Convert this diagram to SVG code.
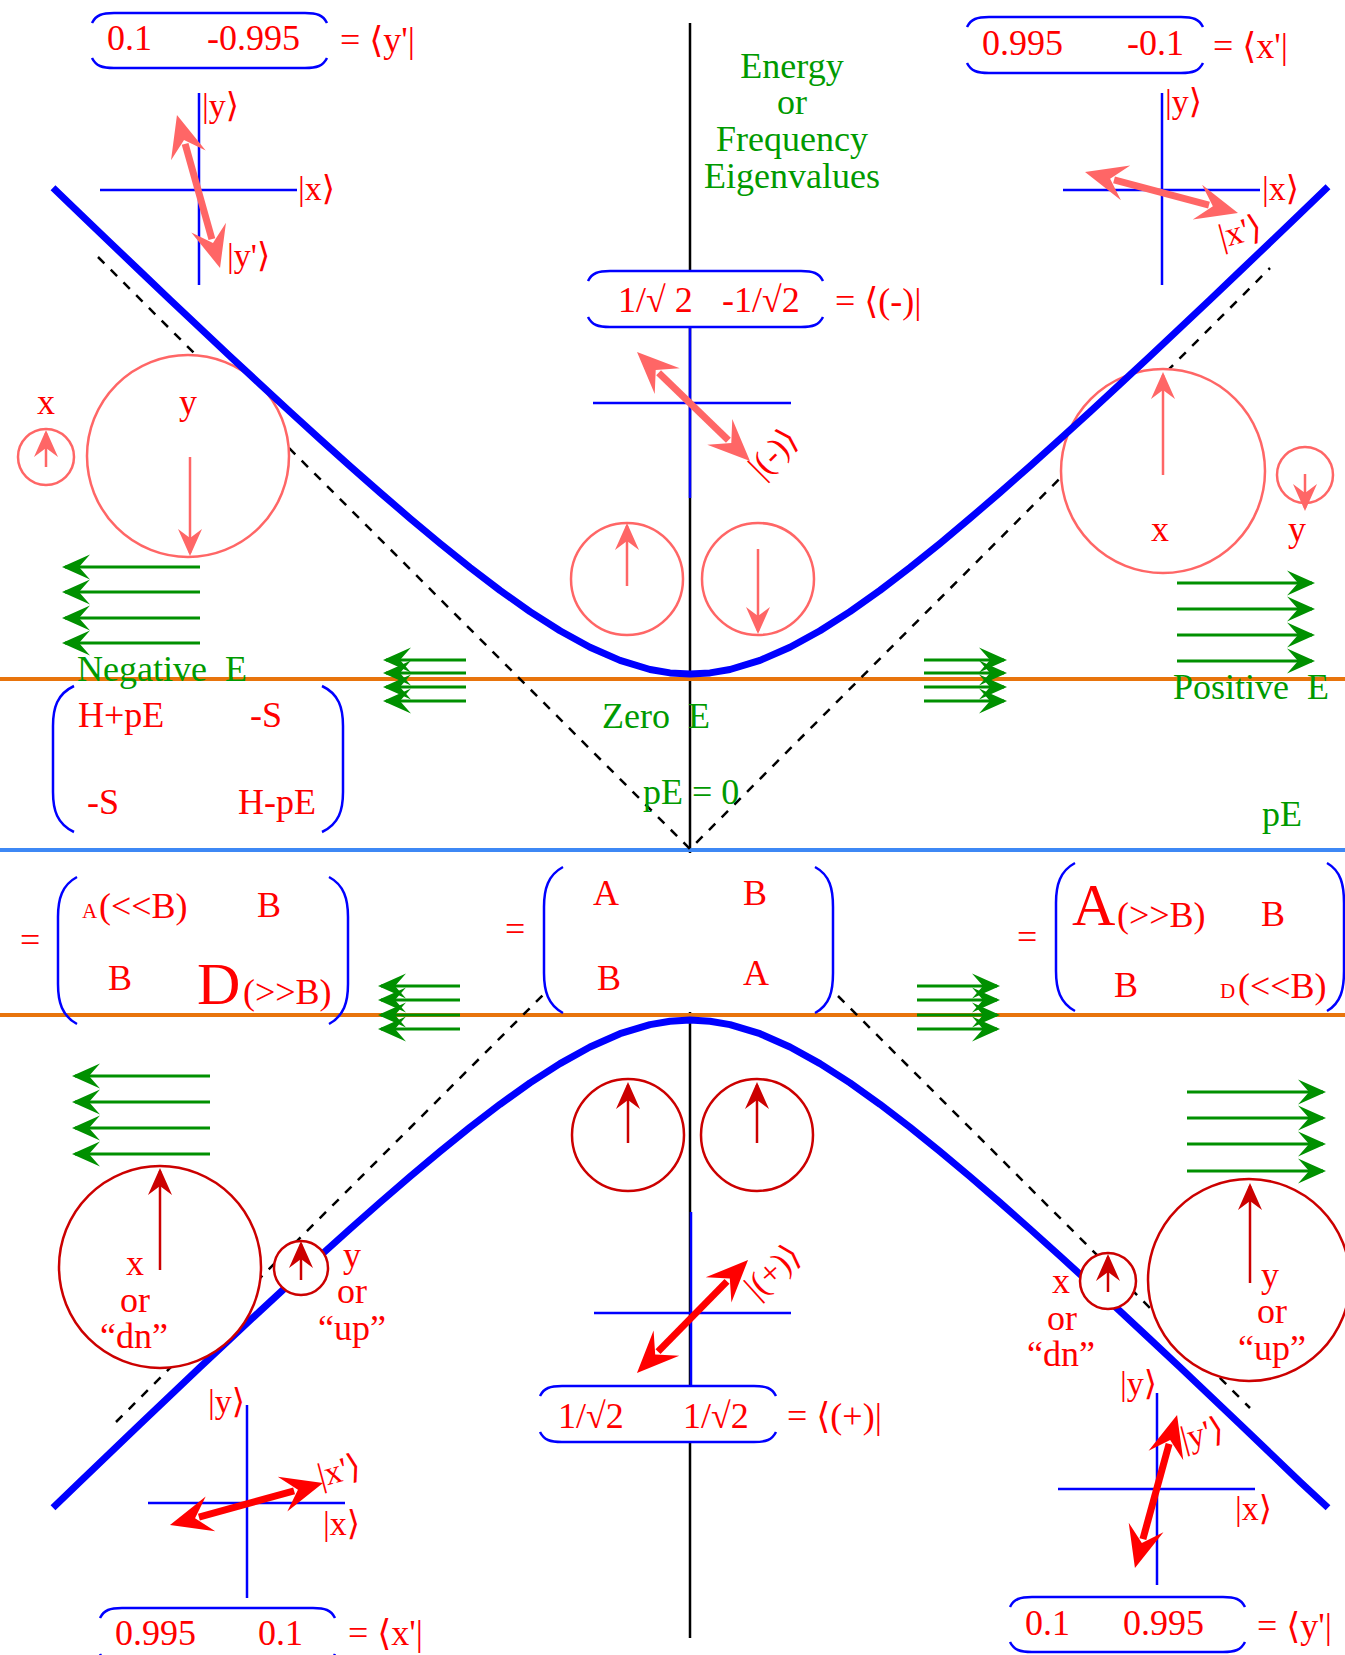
<svg xmlns="http://www.w3.org/2000/svg" width="1345" height="1655" viewBox="0 0 1345 1655">
<style>
text{font-family:'Liberation Serif','DejaVu Serif',serif;font-size:36px}
.r{fill:#ff0000}
.g{fill:#009a00}
.m{text-anchor:middle}
.sm{font-size:34px}
.pre{white-space:pre}
.ax{stroke:#0000ff;stroke-width:2.5;fill:none}
.br{stroke:#0000ff;stroke-width:2.5;fill:none}
.ga{stroke:#009000;stroke-width:3;marker-end:url(#mg)}
.cs{stroke:#ff6666;stroke-width:2.5;fill:#fff}
.cd{stroke:#cc0000;stroke-width:2.5;fill:#fff}
.as{stroke:#ff6666;stroke-width:2.5;marker-end:url(#ms)}
.ad{stroke:#cc0000;stroke-width:2.5;marker-end:url(#md)}
.dash{stroke:#000;stroke-width:2.5;stroke-dasharray:9 9;fill:none}
.curve{stroke:#0000ff;stroke-width:7;fill:none;stroke-linejoin:round}
.dbs{stroke:#ff6666;stroke-width:7;marker-start:url(#hs);marker-end:url(#hs)}
.dbr{stroke:#ff0000;stroke-width:7;marker-start:url(#hr);marker-end:url(#hr)}
</style>
<defs>
<marker id="mg" markerUnits="userSpaceOnUse" viewBox="-30 -14 36 28" markerWidth="36" markerHeight="28" refX="0" refY="0" orient="auto"><path d="M3,0 L-25,-12.5 L-14,0 L-25,12.5 Z" fill="#009000"/></marker>
<marker id="ms" markerUnits="userSpaceOnUse" viewBox="-30 -14 36 28" markerWidth="36" markerHeight="28" refX="0" refY="0" orient="auto"><path d="M3,0 L-24,-12 L-15,0 L-24,12 Z" fill="#ff6666"/></marker>
<marker id="md" markerUnits="userSpaceOnUse" viewBox="-30 -14 36 28" markerWidth="36" markerHeight="28" refX="0" refY="0" orient="auto"><path d="M3,0 L-24,-12 L-15,0 L-24,12 Z" fill="#cc0000"/></marker>
<marker id="hs" markerUnits="userSpaceOnUse" viewBox="-15 -20 50 40" markerWidth="50" markerHeight="40" refX="0" refY="0" orient="auto-start-reverse"><path d="M30,0 L-12,-18 L4,0 L-12,18 Z" fill="#ff6666"/></marker>
<marker id="hr" markerUnits="userSpaceOnUse" viewBox="-15 -20 50 40" markerWidth="50" markerHeight="40" refX="0" refY="0" orient="auto-start-reverse"><path d="M30,0 L-12,-18 L4,0 L-12,18 Z" fill="#ff0000"/></marker>
</defs>
<rect x="0" y="0" width="1345" height="1655" fill="#fff"/>

<g id="connectors">
<line x1="690" y1="23" x2="690" y2="1638" stroke="#000" stroke-width="2.5"/>
<rect x="588" y="271" width="235" height="56" fill="#fff"/>
<rect x="544" y="853" width="289" height="159" fill="#fff"/>
<line x1="0" y1="679" x2="1345" y2="679" stroke="#e8740c" stroke-width="4"/>
<line x1="0" y1="1015" x2="1345" y2="1015" stroke="#e8740c" stroke-width="4"/>
<line x1="0" y1="850" x2="1345" y2="850" stroke="#3d88f5" stroke-width="4"/>
<path class="dash" d="M98,257 L690,849 L1270,268"/>
<path class="dash" d="M116,1422 L543,995"/>
<path class="dash" d="M838,996 L1250,1408"/>
</g>

<g id="top-circles">
<circle class="cs" cx="46" cy="457" r="28"/>
<line class="as" x1="46" y1="467" x2="46" y2="433"/>
<circle class="cs" cx="188" cy="456" r="101"/>
<line class="as" x1="190" y1="457" x2="190" y2="553"/>
<circle class="cs" cx="627" cy="579" r="56"/>
<line class="as" x1="627" y1="586" x2="627" y2="526"/>
<circle class="cs" cx="758" cy="579" r="56"/>
<line class="as" x1="758" y1="549" x2="758" y2="631"/>
<circle class="cs" cx="1163" cy="471" r="102"/>
<line class="as" x1="1163" y1="475" x2="1163" y2="375"/>
<circle class="cs" cx="1305" cy="475" r="28"/>
<line class="as" x1="1305" y1="474" x2="1305" y2="508"/>
</g>

<g id="curves">
<path class="curve" d="M53,187.7 L80,213.7 L110,242.5 L140,271.1 L170,299.7 L200,328 L230,356.2 L260,384.1 L290,411.8 L320,439.1 L350,466.1 L380,492.5 L410,518.3 L440,543.4 L470,567.5 L500,590.4 L530,611.6 L560,630.8 L590,647.3 L620,660.4 L650,669.5 L670,672.9 L690,674 L710,672.9 L730,669.5 L760,660.4 L790,647.3 L820,630.8 L850,611.6 L880,590.4 L910,567.5 L940,543.4 L970,518.3 L1000,492.5 L1030,466.1 L1060,439.1 L1090,411.8 L1120,384.1 L1150,356.2 L1180,328 L1210,299.7 L1240,271.1 L1270,242.5 L1300,213.7 L1328,186.7"/>
<path class="curve" d="M53,1507.8 L80,1481.8 L110,1453 L140,1424.3 L170,1395.7 L200,1367.3 L230,1339.1 L260,1311.1 L290,1283.4 L320,1256 L350,1229 L380,1202.5 L410,1176.6 L440,1151.5 L470,1127.3 L500,1104.3 L530,1082.9 L560,1063.6 L590,1047 L620,1033.7 L650,1024.6 L670,1021.2 L690,1020 L710,1021.2 L730,1024.6 L760,1033.7 L790,1047 L820,1063.6 L850,1082.9 L880,1104.3 L910,1127.3 L940,1151.5 L970,1176.6 L1000,1202.5 L1030,1229 L1060,1256 L1090,1283.4 L1120,1311.1 L1150,1339.1 L1180,1367.3 L1210,1395.7 L1240,1424.3 L1270,1453 L1300,1481.8 L1328,1507.8"/>
</g>

<g id="bottom-circles">
<circle class="cd" cx="160" cy="1267" r="101"/>
<line class="ad" x1="160" y1="1270" x2="160" y2="1171"/>
<circle class="cd" cx="301" cy="1268" r="27"/>
<line class="ad" x1="301" y1="1280" x2="301" y2="1244"/>
<circle class="cd" cx="628" cy="1135" r="56"/>
<line class="ad" x1="628" y1="1143" x2="628" y2="1085"/>
<circle class="cd" cx="757" cy="1135" r="56"/>
<line class="ad" x1="757" y1="1143" x2="757" y2="1085"/>
<circle class="cd" cx="1108" cy="1281" r="28"/>
<line class="ad" x1="1108" y1="1292" x2="1108" y2="1257"/>
<circle class="cd" cx="1249" cy="1280" r="101"/>
<line class="ad" x1="1250" y1="1283" x2="1250" y2="1186"/>
</g>

<g id="green-arrows">
<line class="ga" x1="200" y1="567" x2="65" y2="567"/>
<line class="ga" x1="200" y1="592" x2="65" y2="592"/>
<line class="ga" x1="200" y1="618" x2="65" y2="618"/>
<line class="ga" x1="200" y1="643" x2="65" y2="643"/>
<line class="ga" x1="466" y1="660" x2="386" y2="660"/>
<line class="ga" x1="466" y1="673" x2="386" y2="673"/>
<line class="ga" x1="466" y1="687" x2="386" y2="687"/>
<line class="ga" x1="466" y1="701" x2="386" y2="701"/>
<line class="ga" x1="924" y1="660" x2="1004" y2="660"/>
<line class="ga" x1="924" y1="673" x2="1004" y2="673"/>
<line class="ga" x1="924" y1="687" x2="1004" y2="687"/>
<line class="ga" x1="924" y1="701" x2="1004" y2="701"/>
<line class="ga" x1="1177" y1="583" x2="1312" y2="583"/>
<line class="ga" x1="1177" y1="609" x2="1312" y2="609"/>
<line class="ga" x1="1177" y1="635" x2="1312" y2="635"/>
<line class="ga" x1="1177" y1="661" x2="1312" y2="661"/>
<line class="ga" x1="210" y1="1076" x2="75" y2="1076"/>
<line class="ga" x1="210" y1="1102" x2="75" y2="1102"/>
<line class="ga" x1="210" y1="1128" x2="75" y2="1128"/>
<line class="ga" x1="210" y1="1154" x2="75" y2="1154"/>
<line class="ga" x1="460" y1="986" x2="381" y2="986"/>
<line class="ga" x1="460" y1="1000" x2="381" y2="1000"/>
<line class="ga" x1="460" y1="1015" x2="381" y2="1015"/>
<line class="ga" x1="460" y1="1029" x2="381" y2="1029"/>
<line class="ga" x1="917" y1="986" x2="997" y2="986"/>
<line class="ga" x1="917" y1="1000" x2="997" y2="1000"/>
<line class="ga" x1="917" y1="1015" x2="997" y2="1015"/>
<line class="ga" x1="917" y1="1029" x2="997" y2="1029"/>
<line class="ga" x1="1187" y1="1092" x2="1323" y2="1092"/>
<line class="ga" x1="1187" y1="1118" x2="1323" y2="1118"/>
<line class="ga" x1="1187" y1="1144" x2="1323" y2="1144"/>
<line class="ga" x1="1187" y1="1171" x2="1323" y2="1171"/>
</g>

<g id="axes-tl">
<line class="ax" x1="199" y1="93" x2="199" y2="285"/>
<line class="ax" x1="100" y1="190" x2="297" y2="190"/>
<line class="dbs" x1="185.1" y1="143.9" x2="211.9" y2="239.1"/>
<text class="r sm" x="202" y="117">|y⟩</text>
<text class="r sm" x="298" y="200">|x⟩</text>
<text class="r sm" x="227" y="267">|y'⟩</text>
</g>
<g id="bra-tl">
<path class="br" d="M92,23 C96,15 102,13 114,13 L305,13 C317,13 323,15 327,23"/>
<path class="br" d="M92,58 C96,66 102,68 114,68 L305,68 C317,68 323,66 327,58"/>
<text class="r" x="107" y="50">0.1</text>
<text class="r" x="207" y="50">-0.995</text>
<text class="r" x="340" y="52">= ⟨y'|</text>
</g>

<g id="axes-tr">
<line class="ax" x1="1162" y1="93" x2="1162" y2="285"/>
<line class="ax" x1="1063" y1="190" x2="1260" y2="190"/>
<line class="dbs" x1="1114" y1="179.8" x2="1209" y2="205.2"/>
<text class="r sm" x="1165" y="113">|y⟩</text>
<text class="r sm" x="1262" y="200">|x⟩</text>
<text class="r sm" transform="translate(1222,248) rotate(-15)">|x'⟩</text>
</g>
<g id="bra-tr">
<path class="br" d="M967,27 C971,19 977,17 989,17 L1181,17 C1193,17 1199,19 1203,27"/>
<path class="br" d="M967,63 C971,71 977,73 989,73 L1181,73 C1193,73 1199,71 1203,63"/>
<text class="r" x="982" y="55">0.995</text>
<text class="r" x="1127" y="55">-0.1</text>
<text class="r" x="1213" y="58">= ⟨x'|</text>
</g>

<g id="title">
<text class="g m"><tspan x="792" y="78">Energy</tspan><tspan x="792" y="114">or</tspan><tspan x="792" y="151">Frequency</tspan><tspan x="792" y="188">Eigenvalues</tspan></text>
</g>

<g id="bra-tc">
<path class="br" d="M588,281 C592,273 598,271 610,271 L801,271 C813,271 819,273 823,281"/>
<path class="br" d="M588,317 C592,325 598,327 610,327 L801,327 C813,327 819,325 823,317"/>
<text class="r pre" x="618" y="312">1/√ 2</text>
<text class="r" x="722" y="312">-1/√2</text>
<text class="r" x="835" y="313">= ⟨(-)|</text>
</g>
<g id="axes-tc">
<line class="ax" x1="690" y1="327" x2="690" y2="498"/>
<line class="ax" x1="593" y1="403" x2="791" y2="403"/>
<line class="dbs" x1="658.6" y1="372.8" x2="728.4" y2="440.2"/>
<text class="r sm" transform="translate(762,480) rotate(-45)">|(-)⟩</text>
</g>

<g id="top-labels">
<text class="r m" x="46" y="414">x</text>
<text class="r m" x="188" y="414">y</text>
<text class="r m" x="1160" y="541">x</text>
<text class="r m" x="1297" y="541">y</text>
<text class="g pre" x="77" y="681">Negative  E</text>
<text class="g pre" x="602" y="728">Zero  E</text>
<text class="g pre" x="1173" y="699">Positive  E</text>
<text class="g" x="643" y="804">pE = 0</text>
<text class="g" x="1262" y="826">pE</text>
</g>

<g id="matrix-tl">
<path class="br" d="M74,686 C57,694 53,708 53,726 L53,792 C53,810 57,824 74,832"/>
<path class="br" d="M322,686 C339,694 343,708 343,726 L343,792 C343,810 339,824 322,832"/>
<text class="r" x="78" y="727">H+pE</text>
<text class="r" x="250" y="727">-S</text>
<text class="r" x="87" y="814">-S</text>
<text class="r" x="238" y="814">H-pE</text>
</g>

<g id="matrix-bl">
<text class="r" x="20" y="952">=</text>
<path class="br" d="M77,877 C62,885 58,899 58,917 L58,984 C58,1002 62,1016 77,1024"/>
<path class="br" d="M329,877 C344,885 348,899 348,917 L348,984 C348,1002 344,1016 329,1024"/>
<text class="r" x="82" y="918" style="font-size:21px">A</text>
<text class="r" x="99" y="918">(&lt;&lt;B)</text>
<text class="r" x="257" y="917">B</text>
<text class="r" x="108" y="990">B</text>
<text class="r" x="197" y="1004" style="font-size:60px">D</text>
<text class="r" x="243" y="1004">(&gt;&gt;B)</text>
</g>

<g id="matrix-bc">
<text class="r" x="505" y="941">=</text>
<path class="br" d="M563,867 C548,875 544,889 544,907 L544,973 C544,991 548,1005 563,1013"/>
<path class="br" d="M815,867 C830,875 833,889 833,907 L833,973 C833,991 830,1005 815,1013"/>
<text class="r" x="593" y="905">A</text>
<text class="r" x="743" y="905">B</text>
<text class="r" x="597" y="990">B</text>
<text class="r" x="743" y="985">A</text>
</g>

<g id="matrix-br">
<text class="r" x="1017" y="949">=</text>
<path class="br" d="M1075,863 C1060,871 1056,885 1056,903 L1056,971 C1056,989 1060,1003 1075,1011"/>
<path class="br" d="M1327,863 C1341,871 1344,885 1344,903 L1344,971 C1344,989 1341,1003 1327,1011"/>
<text class="r" x="1072" y="925" style="font-size:60px">A</text>
<text class="r" x="1117" y="927">(&gt;&gt;B)</text>
<text class="r" x="1261" y="926">B</text>
<text class="r" x="1114" y="997">B</text>
<text class="r" x="1220" y="998" style="font-size:21px">D</text>
<text class="r" x="1238" y="998">(&lt;&lt;B)</text>
</g>

<g id="bottom-labels">
<text class="r m"><tspan x="135" y="1275">x</tspan><tspan x="135" y="1312">or</tspan><tspan x="134" y="1348">“dn”</tspan></text>
<text class="r m"><tspan x="352" y="1267">y</tspan><tspan x="352" y="1303">or</tspan><tspan x="352" y="1340">“up”</tspan></text>
<text class="r m"><tspan x="1061" y="1293">x</tspan><tspan x="1062" y="1330">or</tspan><tspan x="1061" y="1366">“dn”</tspan></text>
<text class="r m"><tspan x="1270" y="1287">y</tspan><tspan x="1272" y="1323">or</tspan><tspan x="1272" y="1360">“up”</tspan></text>
</g>

<g id="axes-bl">
<line class="ax" x1="247" y1="1405" x2="247" y2="1598"/>
<line class="ax" x1="148" y1="1503" x2="345" y2="1503"/>
<line class="dbr" x1="198.9" y1="1517.1" x2="294.1" y2="1490.9"/>
<text class="r sm" x="208" y="1413">|y⟩</text>
<text class="r sm" transform="translate(321,1487) rotate(-15)">|x'⟩</text>
<text class="r sm" x="323" y="1535">|x⟩</text>
</g>
<g id="bra-bl">
<path class="br" d="M100,1618 C104,1610 110,1608 122,1608 L313,1608 C325,1608 331,1610 335,1618"/>
<path class="br" d="M100,1654 C104,1662 110,1664 122,1664 L313,1664 C325,1664 331,1662 335,1654"/>
<text class="r" x="115" y="1645">0.995</text>
<text class="r" x="258" y="1645">0.1</text>
<text class="r" x="348" y="1645">= ⟨x'|</text>
</g>

<g id="axes-bc">
<line class="ax" x1="691" y1="1212" x2="691" y2="1386"/>
<line class="ax" x1="594" y1="1313" x2="791" y2="1313"/>
<line class="dbr" x1="658" y1="1351.6" x2="727" y2="1281.4"/>
<text class="r sm" transform="translate(757,1300) rotate(-42)">|(+)⟩</text>
</g>
<g id="bra-bc">
<rect x="540" y="1386" width="236" height="56" fill="#fff"/>
<path class="br" d="M540,1396 C544,1388 550,1386 562,1386 L754,1386 C766,1386 772,1388 776,1396"/>
<path class="br" d="M540,1432 C544,1440 550,1442 562,1442 L754,1442 C766,1442 772,1440 776,1432"/>
<text class="r" x="558" y="1428">1/√2</text>
<text class="r" x="683" y="1428">1/√2</text>
<text class="r" x="787" y="1428">= ⟨(+)|</text>
</g>

<g id="axes-br">
<line class="ax" x1="1157" y1="1393" x2="1157" y2="1585"/>
<line class="ax" x1="1058" y1="1489" x2="1255" y2="1489"/>
<line class="dbr" x1="1169.1" y1="1443.9" x2="1142.9" y2="1539.1"/>
<text class="r sm" x="1120" y="1395">|y⟩</text>
<text class="r sm" transform="translate(1184,1450) rotate(-15)">|y'⟩</text>
<text class="r sm" x="1235" y="1520">|x⟩</text>
</g>
<g id="bra-br">
<path class="br" d="M1010,1607 C1014,1599 1020,1597 1032,1597 L1223,1597 C1235,1597 1241,1599 1245,1607"/>
<path class="br" d="M1010,1642 C1014,1650 1020,1652 1032,1652 L1223,1652 C1235,1652 1241,1650 1245,1642"/>
<text class="r" x="1025" y="1635">0.1</text>
<text class="r" x="1123" y="1635">0.995</text>
<text class="r" x="1257" y="1638">= ⟨y'|</text>
</g>
</svg>
